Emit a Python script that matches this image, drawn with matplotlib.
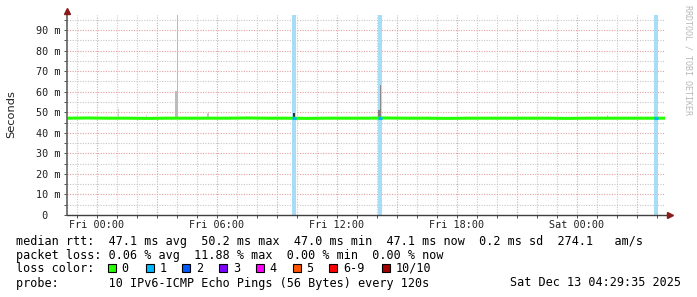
import matplotlib
matplotlib.use("Agg")
import matplotlib.pyplot as plt
from matplotlib.patches import Rectangle

W, H = 697, 297
MONO = "DejaVu Sans Mono"

# time axis in hours from Fri 00:00
x_start, x_end = -1.5, 28.4
tick_hours = [0, 3, 6, 9, 12, 15, 18, 21, 24, 27]
tick_labels = ["Fri 00:00", "", "Fri 06:00", "", "Fri 12:00", "", "Fri 18:00", "", "Sat 00:00", ""]
y_ticks = [0, 10, 20, 30, 40, 50, 60, 70, 80, 90]
y_labels = [" 0", "10 m", "20 m", "30 m", "40 m", "50 m", "60 m", "70 m", "80 m", "90 m"]

# median rtt (ms), hourly
median_t = [-1.5, -0.5, 0.5, 1.5, 2.5, 3.5, 4.5, 5.5, 6.5, 7.5, 8.5, 9.5, 10.5, 11.5, 12.5,
            13.5, 14.5, 15.5, 16.5, 17.5, 18.5, 19.5, 20.5, 21.5, 22.5, 23.5, 24.5, 25.5,
            26.5, 27.5, 28.4]
median_ms = [47.1, 47.2, 47.1, 47.1, 47.0, 47.1, 47.1, 47.1, 47.1, 47.2, 47.1, 47.1, 47.0, 47.1, 47.1,
             47.1, 47.2, 47.1, 47.1, 47.0, 47.1, 47.1, 47.1, 47.1, 47.1, 47.0, 47.1, 47.1,
             47.1, 47.1, 47.1]

# packet loss events (hour, lost pings out of 10)
loss_t = [9.85, 14.15, 27.95]
loss_pings = [1, 1, 1]

# smoke (ping spread), hour / low / high in ms
smoke_t = [1.05, 2.45, 4.02, 3.98, 5.55, 9.85, 14.17, 14.12, 25.5]
smoke_lo = [47.5, 47.5, 47.5, 47.5, 47.5, 47.0, 47.5, 47.5, 47.5]
smoke_hi = [51.7, 48.6, 97.5, 60.3, 49.8, 49.6, 63.3, 51.1, 48.5]
smoke_shade = ["#d4d4d4", "#d4d4d4", "#bcbcbc", "#bcbcbc", "#c8c8c8", "#303030", "#888888", "#808080", "#d0d0d0"]
smoke_width = [0.05, 0.05, 0.06, 0.15, 0.1, 0.1, 0.05, 0.15, 0.05]

loss_names = ["0", "1", "2", "3", "4", "5", "6-9", "10/10"]
loss_colors = ["#26ff00", "#00b8ff", "#0059ff", "#7e00ff", "#ff00ff", "#ff5500", "#ff0000", "#a10000"]
loss_band = "#a8def5"

fig = plt.figure(figsize=(W / 100, H / 100), dpi=100)
fig.patch.set_facecolor("white")


def fx(px):
    return px / W


def fy(py):
    return 1 - py / H


ax = fig.add_axes([fx(67), fy(215), 598 / W, 200.4 / H])
ax.set_xlim(x_start, x_end)
ax.set_ylim(0, 97.5)
for s in ax.spines.values():
    s.set_visible(False)

# grid
ax.set_xticks(range(-1, 29), minor=True)
ax.set_yticks(range(5, 100, 10), minor=True)
ax.set_xticks(tick_hours, tick_labels)
ax.set_yticks(y_ticks, y_labels)
ax.grid(which="minor", color="#c8c8c8", linestyle=(0, (1, 1.3)), linewidth=0.8)
ax.grid(which="major", color="#e6a0a0", linestyle=(0, (1, 1.3)), linewidth=0.8)
ax.tick_params(which="both", length=2, width=0.7, color="#505050", labelsize=7.3,
               labelcolor="#202020")
ax.tick_params(axis="x", which="major", pad=1.5)
ax.tick_params(axis="y", which="major", pad=20.3)
for lbl in ax.get_yticklabels():
    lbl.set_horizontalalignment("left")
    lbl.set_family(MONO)
for lbl in ax.get_xticklabels():
    lbl.set_family(MONO)

# loss bands
for t, n in zip(loss_t, loss_pings):
    ax.axvspan(t - 0.08, t + 0.08, color=loss_band, lw=0, zorder=1.8)

# smoke
ax.bar(smoke_t, [h - l for h, l in zip(smoke_hi, smoke_lo)], bottom=smoke_lo,
       width=smoke_width, color=smoke_shade, lw=0, zorder=2)

# median
ax.plot(median_t, median_ms, color=loss_colors[0], lw=2.2, solid_capstyle="butt", zorder=3)
for t, n in zip(loss_t, loss_pings):
    m = median_ms[min(range(len(median_t)), key=lambda i: abs(median_t[i] - t))]
    ax.plot([t - 0.08, t + 0.08], [m, m], color=loss_colors[n], lw=2.2,
            solid_capstyle="butt", zorder=4)

# axis lines with arrows
ax.plot([0, 0], [0, 1.01], transform=ax.transAxes, clip_on=False, color="#606060", lw=1.2, zorder=5)
ax.plot([0, 1.005], [0, 0], transform=ax.transAxes, clip_on=False, color="#404040", lw=1.0, zorder=5)
ax.plot([0], [1.018], transform=ax.transAxes, clip_on=False, marker="^", ms=4.5, color="#8b1a1a", zorder=6)
ax.plot([1.009], [0], transform=ax.transAxes, clip_on=False, marker=">", ms=4.5, color="#8b1a1a", zorder=6)

fig.text(fx(11), fy(114), "Seconds", rotation=90, ha="center", va="center", fontsize=8.2,
         family="DejaVu Sans", color="#202020")
fig.text(fx(688), fy(5), "RRDTOOL / TOBI OETIKER", rotation=-90, ha="center", va="top",
         fontsize=6, family=MONO, color="#b8b8b8")

# legend
fs = 8.5
fig.text(fx(16), fy(241), "median rtt:  47.1 ms avg  50.2 ms max  47.0 ms min  47.1 ms now  0.2 ms sd  274.1   am/s",
         ha="left", va="center", fontsize=fs, family=MONO)
fig.text(fx(16), fy(256), "packet loss: 0.06 % avg  11.88 % max  0.00 % min  0.00 % now",
         ha="left", va="center", fontsize=fs, family=MONO)
fig.text(fx(16), fy(268), "loss color:", ha="left", va="center", fontsize=fs, family=MONO)
sq_x = [108, 145.7, 182.3, 219.3, 256, 292.7, 329.3, 381.7]
for x0, name, col in zip(sq_x, loss_names, loss_colors):
    fig.patches.append(Rectangle((fx(x0), fy(272)), 8 / W, 8 / H, transform=fig.transFigure,
                                 facecolor=col, edgecolor="black", lw=0.8))
    fig.text(fx(x0 + 13.5), fy(268), name, ha="left", va="center", fontsize=fs, family=MONO)
fig.text(fx(16), fy(283), "probe:       10 IPv6-ICMP Echo Pings (56 Bytes) every 120s",
         ha="left", va="center", fontsize=fs, family=MONO)
fig.text(fx(681), fy(283), "Sat Dec 13 04:29:35 2025", ha="right", va="center", fontsize=fs, family=MONO)

fig.savefig("out.png", dpi=100)
